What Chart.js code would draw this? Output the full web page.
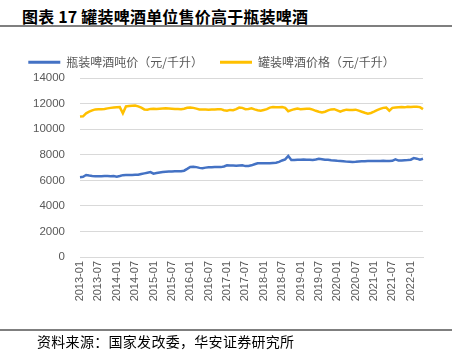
<!DOCTYPE html>
<html>
<head>
<meta charset="utf-8">
<script src="https://cdn.jsdelivr.net/npm/chart.js@4/dist/chart.umd.min.js"></script>
<style>
  html, body { margin: 0; padding: 0; background: #fff; }
  #wrap { position: relative; width: 452px; height: 358px; overflow: hidden; }
  #chart { position: absolute; left: 0; top: 0; }
  .title { position: absolute; left: 22px; top: 4px; font: bold 16px "Noto Sans CJK SC", sans-serif; color: #000; white-space: nowrap; letter-spacing: 0.2px; }
  .rule { position: absolute; left: 0; width: 452px; height: 1.5px; background: #7f7f7f; }
  .source { position: absolute; left: 37px; top: 331px; font: 14px "Noto Sans CJK SC", sans-serif; color: #000; white-space: nowrap; letter-spacing: 0.3px; }
</style>
</head>
<body>
<div id="wrap">
  <div class="title">图表 17&nbsp;罐装啤酒单位售价高于瓶装啤酒</div>
  <div class="rule" style="top:25px"></div>
  <canvas id="chart" width="452" height="358"></canvas>
  <div class="rule" style="top:329px"></div>
  <div class="source">资料来源：国家发改委，华安证券研究所</div>
</div>
<script>
// monthly labels 2013-01 .. 2022-05
const months = [];
for (let y = 2013; y <= 2022; y++) {
  for (let m = 1; m <= 12; m++) {
    if (y === 2022 && m > 5) break;
    months.push(y + "-" + String(m).padStart(2, "0"));
  }
}

const seriesNames = ["瓶装啤酒吨价（元/千升）", "罐装啤酒价格（元/千升）"];

// 瓶装啤酒吨价
const bottled = [
  6250, 6280, 6420, 6380, 6350, 6330, 6330, 6330, 6340, 6340, 6330, 6340,
  6290, 6340, 6410, 6420, 6420, 6430, 6440, 6450, 6500, 6550, 6600, 6650,
  6530, 6580, 6620, 6660, 6680, 6690, 6700, 6710, 6710, 6720, 6760, 6900,
  7050, 7070, 7040, 6980, 6960, 7000, 7020, 7030, 7040, 7050, 7040, 7090,
  7180, 7170, 7160, 7150, 7170, 7180, 7120, 7130, 7180, 7260, 7340, 7350,
  7340, 7340, 7350, 7370, 7390, 7450, 7560, 7650, 7910, 7600, 7600, 7620,
  7620, 7630, 7620, 7610, 7600, 7630, 7690, 7660, 7620, 7620, 7580, 7560,
  7530, 7510, 7490, 7470, 7460, 7450, 7460, 7480, 7490, 7500, 7510, 7510,
  7520, 7510, 7520, 7530, 7520, 7520, 7530, 7640, 7550, 7560, 7580, 7590,
  7620, 7750, 7700, 7620, 7690
];

// 罐装啤酒价格
const canned = [
  11000, 11020, 11250, 11380, 11480, 11560, 11580, 11580, 11600, 11640, 11680, 11700,
  11720, 11740, 11250, 11790, 11820, 11850, 11860, 11800, 11700, 11560, 11540, 11600,
  11620, 11600, 11620, 11640, 11650, 11640, 11620, 11600, 11600, 11580, 11610, 11690,
  11700, 11680, 11620, 11560, 11550, 11550, 11540, 11560, 11560, 11570, 11580, 11500,
  11450, 11520, 11500, 11580, 11700, 11680, 11580, 11600, 11640, 11560, 11500, 11460,
  11520, 11580, 11700, 11740, 11720, 11720, 11740, 11680, 11420, 11500, 11580, 11620,
  11580, 11600, 11620, 11610, 11540, 11450, 11380, 11320, 11380, 11480, 11560, 11580,
  11480, 11380, 11480, 11540, 11520, 11520, 11540, 11460, 11380, 11300, 11230, 11280,
  11380, 11500, 11600, 11680, 11700, 11460, 11680, 11700, 11720, 11740, 11720, 11760,
  11750, 11770, 11760, 11740, 11580
];

const yTicks = { min: 0, max: 14000, step: 2000 };

const gridColor = "#d9d9d9";
const textColor = "#595959";

new Chart(document.getElementById("chart"), {
  type: "line",
  data: {
    labels: months,
    datasets: [
      {
        label: seriesNames[0],
        data: bottled,
        borderColor: "#4472c4",
        backgroundColor: "#4472c4",
        borderWidth: 2.5,
        pointRadius: 0,
        tension: 0,
      },
      {
        label: seriesNames[1],
        data: canned,
        borderColor: "#ffc000",
        backgroundColor: "#ffc000",
        borderWidth: 2.5,
        pointRadius: 0,
        tension: 0,
      },
    ],
  },
  options: {
    responsive: false,
    animation: false,
    layout: { padding: { top: 39.25, right: 29, bottom: 41, left: 0 } },
    plugins: {
      tooltip: { enabled: false },
      legend: {
        position: "top",
        labels: {
          boxWidth: 32,
          boxHeight: 3,
          padding: 17,
          color: textColor,
          font: { family: "Noto Sans CJK SC", size: 12 },
          generateLabels(chart) {
            const items = Chart.defaults.plugins.legend.labels.generateLabels(chart);
            items.forEach((it) => {
              it.lineWidth = 0;
              it.fillStyle = it.strokeStyle;
            });
            return items;
          },
        },
      },
    },
    scales: {
      x: {
        grid: { display: false, drawTicks: false },
        border: { color: gridColor, width: 1 },
        afterFit(s) { s.height = 60; },
        ticks: {
          autoSkip: false,
          minRotation: 90,
          maxRotation: 90,
          padding: 4,
          color: textColor,
          font: { family: "Liberation Sans", size: 11 },
          callback(val, idx) {
            return idx % 6 === 0 ? months[idx] : "";
          },
        },
      },
      y: {
        min: yTicks.min,
        max: yTicks.max,
        grid: { color: gridColor, drawTicks: false },
        border: { display: false },
        afterFit(s) { s.width = 80; },
        ticks: {
          stepSize: yTicks.step,
          padding: 15,
          color: textColor,
          font: { family: "Liberation Sans", size: 11.5 },
          callback(value) {
            return String(value);
          },
        },
      },
    },
  },
});
</script>
</body>
</html>
